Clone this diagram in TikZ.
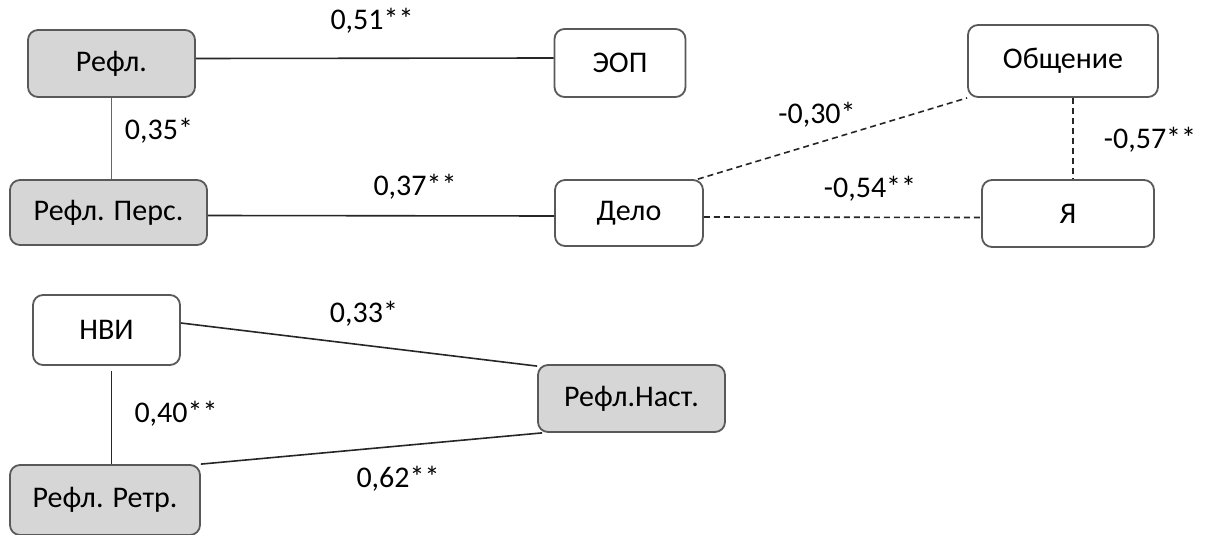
\documentclass[tikz,border=0pt]{standalone}
\usepackage{fontspec}
\setmainfont{Carlito}
\begin{document}
\begin{tikzpicture}[
  x=0.5pt, y=-0.5pt,
  every node/.style={font=\fontsize{15}{18}\selectfont},
  level distance=1.5cm
]
\tikzset{
  caixa/.style={draw=black!65, line width=0.9pt, rounded corners=5pt, inner sep=0pt, align=center},
  cinza/.style={caixa, fill=black!16},
  branco/.style={caixa, fill=white},
  liga/.style={draw=black!85, line width=0.8pt},
  tracejado/.style={liga, dashed, dash pattern=on 3pt off 2pt},
  valor/.style={inner sep=0pt}
}
\useasboundingbox (0,0) rectangle (1205,535);
% caixas
\node[cinza, minimum width=83.5pt, minimum height=33.5pt] (refl) at (111.5,63.5) {Рефл.};
\node[branco, minimum width=65.5pt, minimum height=34pt] (eop) at (620,63) {ЭОП};
\node[branco, minimum width=95pt, minimum height=36pt] (obsh) at (1063,61) {Общение};
\node[cinza, minimum width=98.5pt, minimum height=32.5pt] (pers) at (108.5,212.5) {Рефл. Перс.};
\node[branco, minimum width=74pt, minimum height=33pt] (delo) at (629,213) {Дело};
\node[branco, minimum width=86pt, minimum height=33.5pt] (ya) at (1068,213.5) {Я};
\node[branco, minimum width=73.5pt, minimum height=35pt] (nvi) at (106.5,330) {НВИ};
\node[cinza, minimum width=93.5pt, minimum height=33.5pt] (nast) at (631.5,398.5) {Рефл.Наст.};
\node[cinza, minimum width=95pt, minimum height=35pt] (retr) at (105,500) {Рефл. Ретр.};
% ligações
\draw[liga] ([yshift=2.5pt]refl.east) -- ([yshift=2.5pt]eop.west);
\draw[liga, draw=black!60] (refl.south) -- (refl.south |- pers.north);
\draw[liga] ([yshift=-1.5pt]pers.east) -- ([yshift=-1.5pt]delo.west);
\draw[tracejado] ([xshift=-3pt]delo.north east) -- (obsh.south west);
\draw[tracejado] ([yshift=-2pt]delo.east) -- ([yshift=-2pt]ya.west);
\draw[tracejado] ([xshift=5pt]obsh.south) -- ([xshift=5pt]obsh.south |- ya.north);
\draw[liga] ([yshift=3.5pt]nvi.east) -- ([yshift=-1pt]nast.north west);
\draw[liga] ([xshift=2.5pt, yshift=-2.5pt]nvi.south) -- ([xshift=2.5pt]nvi.south |- retr.north);
\draw[liga] (retr.north east) -- ([xshift=2.5pt]nast.south west);
% coeficientes
\node[valor] (r51) at (372,21) {0,51**};
\node[valor] (r35) at (159,131) {0,35*};
\node[valor] (r37) at (415,187) {0,37**};
\node[valor] (r30) at (817,115) {-0,30*};
\node[valor] (r54) at (870,189) {-0,54**};
\node[valor] (r57) at (1150,140) {-0,57**};
\node[valor] (r33) at (364,314) {0,33*};
\node[valor] (r40) at (176,414) {0,40**};
\node[valor] (r62) at (398,479) {0,62**};
\end{tikzpicture}
\end{document}
